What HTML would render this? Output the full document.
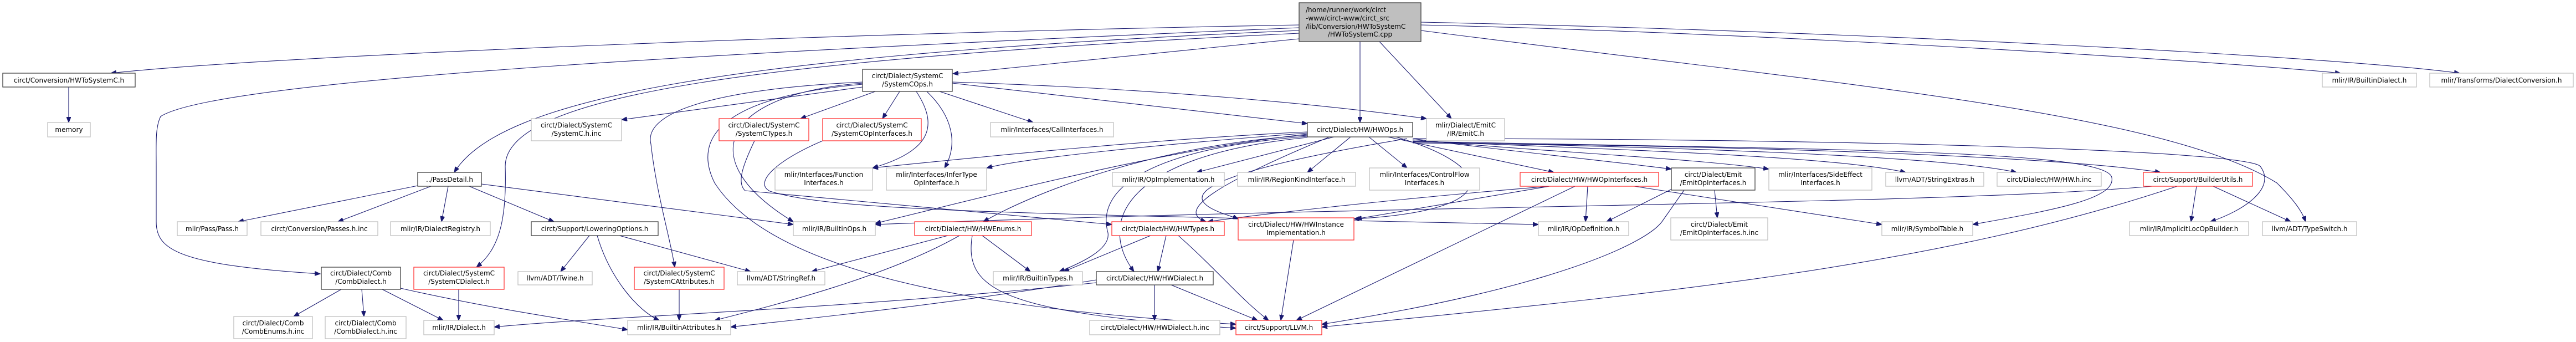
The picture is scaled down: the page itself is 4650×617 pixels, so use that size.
<!DOCTYPE html>
<html><head><meta charset="utf-8"><style>
html,body{margin:0;padding:0;background:#fff;}
svg{display:block;}
text{font-family:"DejaVu Sans","Liberation Sans",sans-serif;font-size:12px;fill:#000;}
.g{fill:#fff;stroke:#bfbfbf;stroke-width:1.3;}
.d{fill:#fff;stroke:#404040;stroke-width:1.3;}
.r{fill:#fff;stroke:#ff3333;stroke-width:1.3;}
.e{fill:none;stroke:#191970;stroke-width:1.1;}
</style></head><body>
<svg width="4650" height="617" viewBox="0 0 4650 617" xmlns="http://www.w3.org/2000/svg">
<defs><marker id="a" markerUnits="userSpaceOnUse" markerWidth="11" markerHeight="8" refX="10" refY="4" orient="auto"><path d="M0,0 L10,4 L0,8 z" fill="#191970" stroke="#191970"/></marker></defs>
<g marker-end="url(#a)">
<!-- main -->
<path class="e" d="M2345,45 C1500,60 500,100 200,132"/>
<path class="e" d="M2345,50 C1400,90 400,140 290,210 C280,230 282,260 282,300 L282,400 C282,450 320,478 578,494"/>
<path class="e" d="M2345,55 C1300,100 900,180 820,311"/>
<path class="e" d="M2345,60 C1300,110 912,180 912,300 C915,400 900,450 860,482"/>
<path class="e" d="M2345,70 L1720,133"/>
<path class="e" d="M2455,75 L2455,221"/>
<path class="e" d="M2490,75 L2620,214"/>
<path class="e" d="M2565,45 C3200,60 4000,110 4225,132"/>
<path class="e" d="M2565,40 C3300,55 4200,100 4440,132"/>
<path class="e" d="M2565,55 C3300,150 3900,200 4110,330 C4140,360 4155,380 4162,400"/>
<!-- SystemCOps -->
<path class="e" d="M1557,157 L1122,216"/>
<path class="e" d="M1580,165 L1445,214"/>
<path class="e" d="M1624,165 L1593,214"/>
<path class="e" d="M1696,165 L1865,221"/>
<path class="e" d="M1654,165 C1690,220 1690,270 1575,303"/>
<path class="e" d="M1673,165 C1720,210 1730,260 1705,303"/>
<path class="e" d="M1557,150 C1300,170 1250,290 1432,400"/>
<path class="e" d="M1557,148 C1300,160 1160,200 1175,260 C1185,350 1210,430 1218,482"/>
<path class="e" d="M1557,152 C1300,175 1250,250 1290,330 C1400,500 1800,560 2231,585"/>
<path class="e" d="M1719,150 L2360,223"/>
<path class="e" d="M1719,148 C2100,160 2400,190 2575,214"/>
<path class="e" d="M1362,254 C1340,300 1330,330 1345,344 L2007,405"/>
<path class="e" d="M1485,254 C1400,290 1360,330 1390,345 C1500,380 1800,385 2777,405"/>
<!-- PassDetail -->
<path class="e" d="M754,335 L430,400"/>
<path class="e" d="M778,336 L610,400"/>
<path class="e" d="M809,336 L797,400"/>
<path class="e" d="M847,336 L1000,400"/>
<path class="e" d="M869,332 L1432,405"/>
<path class="e" d="M124,157 L124,221"/>
<!-- Comb / SystemC dialect -->
<path class="e" d="M616,522 L530,571"/>
<path class="e" d="M653,522 L657,571"/>
<path class="e" d="M690,522 L800,578"/>
<path class="e" d="M723,520 C900,560 1050,580 1133,595"/>
<path class="e" d="M828,522 L828,578"/>
<path class="e" d="M1979,510 C1500,560 1100,570 892,590"/>
<path class="e" d="M1979,505 C1700,550 1500,570 1319,590"/>
<!-- LoweringOptions -->
<path class="e" d="M1064,425 L1012,490"/>
<path class="e" d="M1118,425 L1355,490"/>
<path class="e" d="M1078,425 C1100,500 1150,560 1190,578"/>
<path class="e" d="M1226,522 L1226,578"/>
<!-- HWEnums -->
<path class="e" d="M1711,425 L1465,490"/>
<path class="e" d="M1732,425 C1600,500 1400,550 1290,578"/>
<path class="e" d="M1773,425 L1860,490"/>
<path class="e" d="M1755,425 C1740,520 1800,565 2231,592"/>
<!-- HWOps -->
<path class="e" d="M2408,247 L2160,311"/>
<path class="e" d="M2438,247 L2360,311"/>
<path class="e" d="M2471,247 L2540,303"/>
<path class="e" d="M2505,247 L2805,311"/>
<path class="e" d="M2360,238 C2100,250 1800,280 1575,303"/>
<path class="e" d="M2360,240 C2100,260 1850,285 1781,303"/>
<path class="e" d="M2360,242 C2100,270 1800,350 1580,403"/>
<path class="e" d="M2360,244 C2100,260 1880,340 1775,400"/>
<path class="e" d="M2360,246 C2050,270 1980,350 2000,420 C2005,450 1950,475 1912,490"/>
<path class="e" d="M2360,248 C2030,280 1980,400 2047,490"/>
<path class="e" d="M2400,247 C2200,330 2120,380 2177,400"/>
<path class="e" d="M2520,247 C2700,300 2720,380 2444,395"/>
<path class="e" d="M2550,250 C2700,270 2900,290 3017,305"/>
<path class="e" d="M2550,252 C2800,275 3050,285 3193,305"/>
<path class="e" d="M2550,254 C2900,270 3300,280 3440,311"/>
<path class="e" d="M2550,256 C3000,265 3500,280 3640,311"/>
<path class="e" d="M2550,258 C3100,262 3700,280 3900,311"/>
<path class="e" d="M2550,255 C3300,270 3800,270 3812,320 C3820,360 3700,380 3561,405"/>
<path class="e" d="M2550,250 C3300,250 4050,270 4080,300 C4110,340 4050,380 3990,400"/>
<path class="e" d="M2540,250 C2000,340 2200,380 2235,395"/>
<!-- HWOpInterfaces -->
<path class="e" d="M2866,336 L2862,400"/>
<path class="e" d="M2797,336 C2500,360 2250,390 2180,400"/>
<path class="e" d="M2797,336 L2448,395"/>
<path class="e" d="M2843,336 L2340,578"/>
<path class="e" d="M2950,336 L3397,405"/>
<!-- Emit -->
<path class="e" d="M3020,340 L2900,400"/>
<path class="e" d="M3095,343 L3100,393"/>
<path class="e" d="M3040,343 L3000,400 C2970,440 2800,520 2386,585"/>
<!-- HWTypes / HWDialect / HWInstance -->
<path class="e" d="M2105,425 L2090,490"/>
<path class="e" d="M2127,425 C2200,490 2240,540 2290,578"/>
<path class="e" d="M2077,425 L1920,490"/>
<path class="e" d="M2084,514 L2084,578"/>
<path class="e" d="M2114,514 L2270,578"/>
<path class="e" d="M2335,433 L2312,578"/>
<!-- BuilderUtils -->
<path class="e" d="M3965,336 L3955,400"/>
<path class="e" d="M3995,336 L4135,400"/>
<path class="e" d="M3885,336 C3500,370 2500,370 1580,405"/>
<path class="e" d="M3930,336 C3500,480 3000,530 2386,590"/>
</g>

<!-- nodes -->
<rect x="2345" y="5" width="220" height="70" fill="#bfbfbf" stroke="#404040" stroke-width="1.3"/>
<text x="2357" y="22">/home/runner/work/circt</text>
<text x="2357" y="37">-www/circt-www/circt_src</text>
<text x="2357" y="52">/lib/Conversion/HWToSystemC</text>
<text x="2455" y="66" text-anchor="middle">/HWToSystemC.cpp</text>

<g text-anchor="middle">
<rect class="d" x="5" y="132" width="239" height="25"/><text x="124.5" y="149">circt/Conversion/HWToSystemC.h</text>
<rect class="g" x="86" y="221" width="77" height="26"/><text x="124.5" y="238">memory</text>
<rect class="d" x="754" y="311" width="115" height="25"/><text x="811.5" y="328">../PassDetail.h</text>
<rect class="g" x="320" y="400" width="126" height="25"/><text x="383" y="417">mlir/Pass/Pass.h</text>
<rect class="g" x="471" y="400" width="211" height="25"/><text x="576.5" y="417">circt/Conversion/Passes.h.inc</text>
<rect class="g" x="705" y="400" width="180" height="25"/><text x="795" y="417">mlir/IR/DialectRegistry.h</text>
<rect class="d" x="580" y="482" width="143" height="40"/><text x="651.5" y="497">circt/Dialect/Comb</text><text x="651.5" y="512">/CombDialect.h</text>
<rect class="r" x="747" y="482" width="163" height="40"/><text x="828.5" y="497">circt/Dialect/SystemC</text><text x="828.5" y="512">/SystemCDialect.h</text>
<rect class="g" x="422" y="571" width="142" height="40"/><text x="493" y="587">circt/Dialect/Comb</text><text x="493" y="602">/CombEnums.h.inc</text>
<rect class="g" x="587" y="571" width="146" height="40"/><text x="660" y="587">circt/Dialect/Comb</text><text x="660" y="602">/CombDialect.h.inc</text>
<rect class="g" x="765" y="578" width="127" height="26"/><text x="828.5" y="595">mlir/IR/Dialect.h</text>
<rect class="d" x="1557" y="125" width="162" height="40"/><text x="1638" y="141">circt/Dialect/SystemC</text><text x="1638" y="156">/SystemCOps.h</text>
<rect class="g" x="959" y="214" width="163" height="40"/><text x="1040.5" y="230">circt/Dialect/SystemC</text><text x="1040.5" y="245">/SystemC.h.inc</text>
<rect class="r" x="1298" y="214" width="162" height="40"/><text x="1379" y="230">circt/Dialect/SystemC</text><text x="1379" y="245">/SystemCTypes.h</text>
<rect class="r" x="1485" y="214" width="178" height="40"/><text x="1574" y="230">circt/Dialect/SystemC</text><text x="1574" y="245">/SystemCOpInterfaces.h</text>
<rect class="g" x="1788" y="221" width="222" height="26"/><text x="1899" y="238">mlir/Interfaces/CallInterfaces.h</text>
<rect class="g" x="1399" y="303" width="176" height="40"/><text x="1487" y="319">mlir/Interfaces/Function</text><text x="1487" y="334">Interfaces.h</text>
<rect class="g" x="1600" y="303" width="181" height="40"/><text x="1690.5" y="319">mlir/Interfaces/InferType</text><text x="1690.5" y="334">OpInterface.h</text>
<rect class="d" x="959" y="400" width="229" height="25"/><text x="1073.5" y="417">circt/Support/LoweringOptions.h</text>
<rect class="g" x="1432" y="400" width="148" height="25"/><text x="1506" y="417">mlir/IR/BuiltinOps.h</text>
<rect class="r" x="1651" y="400" width="211" height="25"/><text x="1756.5" y="417">circt/Dialect/HW/HWEnums.h</text>
<rect class="g" x="935" y="490" width="134" height="24"/><text x="1002" y="506">llvm/ADT/Twine.h</text>
<rect class="r" x="1145" y="482" width="162" height="40"/><text x="1226" y="497">circt/Dialect/SystemC</text><text x="1226" y="512">/SystemCAttributes.h</text>
<rect class="g" x="1331" y="490" width="158" height="24"/><text x="1410" y="506">llvm/ADT/StringRef.h</text>
<rect class="g" x="1793" y="490" width="161" height="24"/><text x="1873.5" y="506">mlir/IR/BuiltinTypes.h</text>
<rect class="d" x="1979" y="490" width="211" height="24"/><text x="2084.5" y="506">circt/Dialect/HW/HWDialect.h</text>
<rect class="g" x="1133" y="578" width="186" height="26"/><text x="1226" y="595">mlir/IR/BuiltinAttributes.h</text>
<rect class="g" x="1967" y="578" width="235" height="26"/><text x="2084.5" y="595">circt/Dialect/HW/HWDialect.h.inc</text>
<rect class="d" x="2360" y="221" width="190" height="26"/><text x="2455" y="238">circt/Dialect/HW/HWOps.h</text>
<rect class="g" x="2575" y="214" width="141" height="40"/><text x="2645.5" y="230">mlir/Dialect/EmitC</text><text x="2645.5" y="245">/IR/EmitC.h</text>
<rect class="g" x="2008" y="311" width="202" height="25"/><text x="2109" y="328">mlir/IR/OpImplementation.h</text>
<rect class="g" x="2234" y="311" width="213" height="25"/><text x="2340.5" y="328">mlir/IR/RegionKindInterface.h</text>
<rect class="g" x="2472" y="303" width="199" height="40"/><text x="2571.5" y="319">mlir/Interfaces/ControlFlow</text><text x="2571.5" y="334">Interfaces.h</text>
<rect class="r" x="2744" y="311" width="250" height="25"/><text x="2869" y="328">circt/Dialect/HW/HWOpInterfaces.h</text>
<rect class="r" x="2007" y="400" width="203" height="25"/><text x="2108.5" y="417">circt/Dialect/HW/HWTypes.h</text>
<rect class="r" x="2235" y="393" width="209" height="40"/><text x="2339.5" y="409">circt/Dialect/HW/HWInstance</text><text x="2339.5" y="424">Implementation.h</text>
<rect class="g" x="2777" y="400" width="163" height="25"/><text x="2858.5" y="417">mlir/IR/OpDefinition.h</text>
<rect class="r" x="2231" y="578" width="155" height="26"/><text x="2308.5" y="595">circt/Support/LLVM.h</text>
<rect class="d" x="3017" y="303" width="151" height="40"/><text x="3092.5" y="319">circt/Dialect/Emit</text><text x="3092.5" y="334">/EmitOpInterfaces.h</text>
<rect class="g" x="3193" y="303" width="186" height="40"/><text x="3286" y="319">mlir/Interfaces/SideEffect</text><text x="3286" y="334">Interfaces.h</text>
<rect class="g" x="3404" y="311" width="177" height="25"/><text x="3492.5" y="328">llvm/ADT/StringExtras.h</text>
<rect class="g" x="3605" y="311" width="188" height="25"/><text x="3699" y="328">circt/Dialect/HW/HW.h.inc</text>
<rect class="r" x="3869" y="311" width="197" height="25"/><text x="3967.5" y="328">circt/Support/BuilderUtils.h</text>
<rect class="g" x="3016" y="393" width="175" height="40"/><text x="3103.5" y="409">circt/Dialect/Emit</text><text x="3103.5" y="424">/EmitOpInterfaces.h.inc</text>
<rect class="g" x="3397" y="400" width="164" height="25"/><text x="3479" y="417">mlir/IR/SymbolTable.h</text>
<rect class="g" x="3844" y="400" width="215" height="25"/><text x="3951.5" y="417">mlir/IR/ImplicitLocOpBuilder.h</text>
<rect class="g" x="4084" y="400" width="170" height="25"/><text x="4169" y="417">llvm/ADT/TypeSwitch.h</text>
<rect class="g" x="4192" y="132" width="170" height="25"/><text x="4277" y="149">mlir/IR/BuiltinDialect.h</text>
<rect class="g" x="4386" y="132" width="259" height="25"/><text x="4515.5" y="149">mlir/Transforms/DialectConversion.h</text>
</g>
</svg>
</body></html>
